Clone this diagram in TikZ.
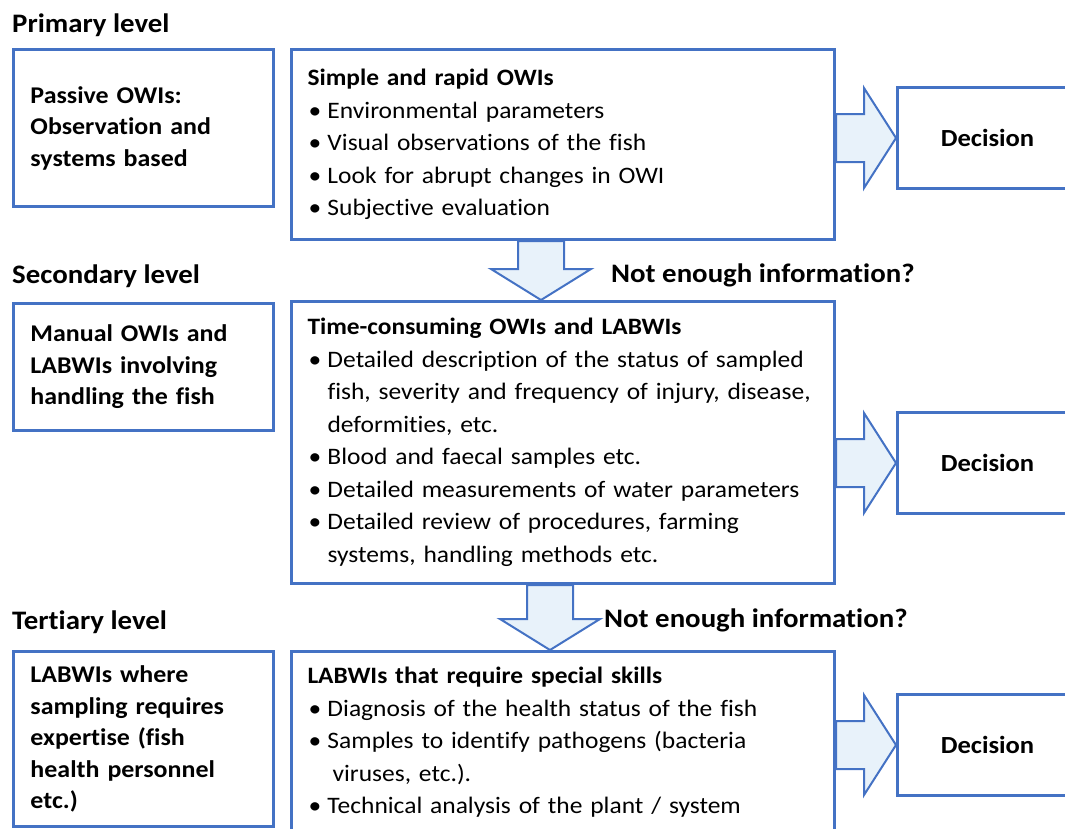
\documentclass[tikz,border=0pt]{standalone}
\usepackage{fontspec}
\setmainfont{Carlito}[FakeStretch=1.08, Ligatures=NoCommon]
\usetikzlibrary{positioning,calc}
\definecolor{owiblue}{RGB}{68,114,196}
\definecolor{owifill}{RGB}{232,242,250}
\newcommand{\owibul}{\makebox[20pt][l]{\hspace{1pt}\textbullet}}
\newcommand{\owicont}{\hspace*{20pt}}

\begin{document}
\begin{tikzpicture}[x=1pt, y=-1pt, font=\fontsize{23.6}{32.5}\selectfont]
\tikzstyle{box}=[draw=owiblue, line width=3pt, anchor=north west, inner xsep=17pt, inner ysep=0pt, align=left, execute at begin node={\hyphenpenalty=10000}]
\tikzstyle{sidebox}=[box, text width=226pt, minimum width=260pt, font=\fontsize{24}{31.5}\selectfont\bfseries]
\tikzstyle{mainbox}=[box, inner xsep=16pt, text width=511pt, minimum width=543pt]
\tikzstyle{decbox}=[box, minimum width=180pt, minimum height=101pt, align=center, font=\fontsize{24.6}{28}\selectfont\bfseries]
\tikzstyle{level}=[anchor=base west, inner sep=0pt, font=\fontsize{26.7}{30}\selectfont\bfseries]
\tikzstyle{blockarrow}=[draw=owiblue, fill=owifill, line width=2pt, line join=miter]

\useasboundingbox (0,0) rectangle (1065,828);
\clip (0,0) rectangle (1065,828);

\node[level] (lev1) at (12,32) {Primary level};
\node[level] (lev2) at (12,283) {Secondary level};
\node[level] (lev3) at (12,629) {Tertiary level};

\node[sidebox, minimum height=157pt] (side1) at (12,48)
  {Passive OWIs:\\ Observation and\\ systems based};
\node[sidebox, minimum height=127pt] (side2) at (12,302)
  {Manual OWIs and\\ LABWIs involving\\ handling the fish};
\node[sidebox, minimum height=175pt] (side3) at (12,650)
  {LABWIs where\\ sampling requires\\ expertise (fish\\ health personnel\\ etc.)};

\node[mainbox, minimum height=190pt] (main1) at (290,48)
  {{\fontsize{23.5}{32.5}\selectfont\bfseries Simple and rapid OWIs}\\
   \owibul Environmental parameters\\
   \owibul Visual observations of the fish\\
   \owibul Look for abrupt changes in OWI\\
   \owibul Subjective evaluation};
\node[mainbox, minimum height=282pt] (main2) at (290,300)
  {{\fontsize{23.5}{32.5}\selectfont\bfseries Time-consuming OWIs and LABWIs}\\
   \owibul Detailed description of the status of sampled\\
   \owicont fish, severity and frequency of injury, disease,\\
   \owicont deformities, etc.\\
   \owibul Blood and faecal samples etc.\\
   \owibul Detailed measurements of water parameters\\
   \owibul Detailed review of procedures, farming\\
   \owicont systems, handling methods etc.};
\node[mainbox, minimum height=182pt] (main3) at (290,650)
  {{\fontsize{23.5}{32.5}\selectfont\bfseries LABWIs that require special skills}\\
   \owibul Diagnosis of the health status of the fish\\
   \owibul Samples to identify pathogens (bacteria\\
   \owicont\hspace*{5pt}viruses, etc.).\\
   \owibul Technical analysis of the plant / system};

\node[decbox] (dec1) at (896,86) {Decision};
\node[decbox] (dec2) at (896,411) {Decision};
\node[decbox] (dec3) at (896,693) {Decision};

\node[level] (ask1) at (611,282) {Not enough information?};
\node[level] (ask2) at (604,627) {Not enough information?};

\foreach \m/\d in {main1/dec1, main2/dec2, main3/dec3}
{\draw[blockarrow] (\d.west) -- ++(-32,-50) -- ++(0,26)
   -- ($(\m.east |- \d.west)+(0,-24)$) -- ($(\m.east |- \d.west)+(0,24)$)
   -- ($(\d.west)+(-32,24)$) -- ++(0,26) -- cycle;}

\foreach \a/\b/\dx in {main1/main2/-22, main2/main3/-13}
{\draw[blockarrow] ($(\b.north)+(\dx,0)$) -- ++(-50,-31) -- ++(27,0)
   -- ($(\a.south)+(\dx-23,0)$) -- ($(\a.south)+(\dx+23,0)$)
   -- ($(\b.north)+(\dx+23,-31)$) -- ++(27,0) -- cycle;}
\end{tikzpicture}
\end{document}
